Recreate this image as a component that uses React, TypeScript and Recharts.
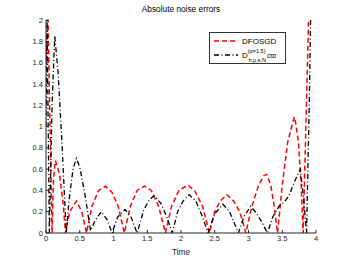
import React from 'react';
import { LineChart, Line, XAxis, YAxis } from 'recharts';

// DFOSGD (red dashed)
const dfosgdTime = [0, 0.03, 0.09, 0.11, 0.14, 0.2, 0.25, 0.29, 0.35, 0.45, 0.53, 0.6, 0.68, 0.78, 0.88, 0.98, 1.07, 1.16, 1.25, 1.35, 1.46, 1.56, 1.67, 1.77, 1.86, 1.97, 2.1, 2.2, 2.32, 2.42, 2.5, 2.58, 2.68, 2.78, 2.87, 2.96, 3.05, 3.15, 3.23, 3.27, 3.33, 3.38, 3.43, 3.5, 3.58, 3.64, 3.66, 3.68, 3.7, 3.74, 3.78, 3.81, 3.85, 3.89];
const dfosgdError = [1.6, 2.0, 0, 0.5, 0.68, 0.55, 0.3, 0, 0.2, 0.3, 0.2, 0, 0.25, 0.4, 0.44, 0.38, 0.25, 0, 0.25, 0.4, 0.44, 0.4, 0.25, 0, 0.25, 0.4, 0.45, 0.4, 0.25, 0, 0.2, 0.3, 0.36, 0.3, 0.2, 0, 0.25, 0.45, 0.54, 0.55, 0.45, 0.25, 0, 0.45, 0.85, 1.0, 1.05, 1.09, 1.03, 0.85, 0.45, 0, 1.0, 2.0];

// D^(a=1.5) cw (black dash-dot)
const cwTime = [0, 0.015, 0.05, 0.09, 0.13, 0.18, 0.24, 0.3, 0.34, 0.4, 0.45, 0.5, 0.58, 0.66, 0.73, 0.82, 0.9, 0.98, 1.06, 1.17, 1.26, 1.35, 1.45, 1.53, 1.6, 1.7, 1.79, 1.87, 1.95, 2.03, 2.12, 2.22, 2.32, 2.4, 2.5, 2.62, 2.72, 2.85, 2.93, 3.03, 3.1, 3.2, 3.28, 3.36, 3.45, 3.53, 3.6, 3.68, 3.77, 3.82, 3.86, 3.9, 3.92];
const cwError = [1.0, 2.0, 0, 1.2, 1.85, 1.5, 0.8, 0, 0.3, 0.6, 0.7, 0.62, 0.35, 0.02, 0.12, 0.2, 0.13, 0, 0.15, 0.22, 0.15, 0, 0.22, 0.31, 0.35, 0.28, 0.15, 0, 0.2, 0.3, 0.36, 0.3, 0.15, 0, 0.18, 0.27, 0.2, 0, 0.15, 0.25, 0.2, 0.1, 0, 0.15, 0.25, 0.29, 0.35, 0.48, 0.6, 0.3, 0, 1.2, 2.0];

const xTicks = [0, 0.5, 1, 1.5, 2, 2.5, 3, 3.5, 4];
const yTicks = [0, 0.2, 0.4, 0.6, 0.8, 1, 1.2, 1.4, 1.6, 1.8, 2];

const dfosgdData = dfosgdTime.map((t, i) => ({ t, v: dfosgdError[i] }));
const cwData = cwTime.map((t, i) => ({ t, v: cwError[i] }));

const font = 'Liberation Sans, Arial, sans-serif';

const LegendBox = () => (
  <div style={{ position: 'absolute', left: 209, top: 32, border: '1px solid #333', background: '#fff', width: 77, height: 32, boxSizing: 'border-box' }}>
    <svg width={75} height={30} style={{ display: 'block', fontFamily: font }}>
      <line x1={4} y1={8} x2={28} y2={8} stroke="#ff0000" strokeWidth={1.5} strokeDasharray="5 3" />
      <text x={32} y={11} fontSize={8}>DFOSGD</text>
      <line x1={4} y1={22} x2={28} y2={22} stroke="#000" strokeWidth={1.3} strokeDasharray="5 2.5 1 2.5" />
      <text x={32} y={25} fontSize={8}>
        D
        <tspan dy={-5} fontSize={5.5}>(α=1.5)</tspan>
        <tspan dx={-17} dy={9} fontSize={5.5}>h,μ,κ,N</tspan>
        <tspan dx={1} dy={-4} fontSize={7}>cϖ</tspan>
      </text>
    </svg>
  </div>
);

export default function App() {
  return (
    <div style={{ position: 'absolute', left: 0, top: 0, width: 349, height: 263, background: '#fff' }}>
      <div style={{ position: 'absolute', left: 46, width: 270, top: 4, textAlign: 'center', fontFamily: font, fontSize: 8.3, color: '#000' }}>
        Absolute noise errors
      </div>
      <LineChart width={349} height={263} margin={{ top: 20, right: 33, bottom: 0, left: 0 }}>
        <XAxis
          type="number"
          dataKey="t"
          domain={[0, 4]}
          ticks={xTicks}
          allowDataOverflow
          height={30}
          tickSize={-3}
          tickMargin={6}
          stroke="#262626"
          tick={{ fill: '#262626', fontSize: 7.5, fontFamily: font }}
          label={{ value: 'Time', position: 'insideBottom', offset: 8, fill: '#262626', fontSize: 8.3, fontFamily: font }}
        />
        <YAxis
          type="number"
          domain={[0, 2]}
          ticks={yTicks}
          allowDataOverflow
          width={46}
          tickSize={-3}
          tickMargin={6}
          stroke="#262626"
          tick={{ fill: '#262626', fontSize: 7.5, fontFamily: font }}
        />
        <Line data={dfosgdData} dataKey="v" type="linear" stroke="#ff0000" strokeWidth={1.5} strokeDasharray="5 3" dot={false} isAnimationActive={false} />
        <Line data={cwData} dataKey="v" type="linear" stroke="#000" strokeWidth={1.3} strokeDasharray="5 2.5 1 2.5" dot={false} isAnimationActive={false} />
      </LineChart>
      <LegendBox />
    </div>
  );
}
